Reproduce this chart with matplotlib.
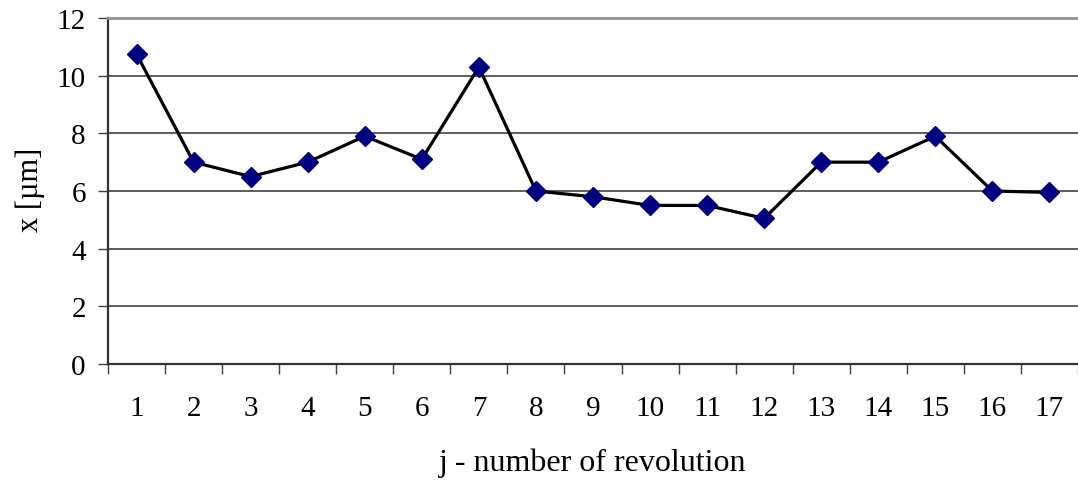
import matplotlib
matplotlib.use("Agg")
import matplotlib.pyplot as plt
import numpy as np

plt.rcParams['font.family'] = ['Liberation Serif', 'DejaVu Serif']

revolution = list(range(1, 18))
x_um = [10.75, 7.0, 6.5, 7.0, 7.9, 7.1, 10.3, 6.0, 5.8, 5.5, 5.5, 5.05, 7.0, 7.0, 7.9, 6.0, 5.95]
y_ticks = [0, 2, 4, 6, 8, 10, 12]

fig = plt.figure(figsize=(10.78, 4.81), dpi=100)
ax = fig.add_axes([108 / 1078, 116 / 481, 970 / 1078, 346 / 481])

ax.plot(revolution, x_um, color='black', lw=2.3, marker='D', markersize=10,
        markerfacecolor='#000080', markeredgecolor='#000080', zorder=3)

ax.set_xlim(0.5, len(revolution) + 0.5)
ax.set_ylim(0, 12)
ax.set_yticks(y_ticks)
ax.set_yticklabels([str(v) for v in y_ticks])
for v in y_ticks[1:]:
    ax.axhline(v, color='#333333', lw=1.1, zorder=1)

# category axis: ticks between categories, labels at the centres
ax.set_xticks(np.arange(0.5, len(revolution) + 1, 1))
ax.set_xticklabels([])
ax.set_xticks(revolution, minor=True)
ax.set_xticklabels([str(r) for r in revolution], minor=True)
ax.tick_params(axis='x', which='major', length=7, width=1, color='#404040', direction='out')
ax.tick_params(axis='x', which='minor', length=0, pad=22, labelsize=21)
ax.tick_params(axis='y', length=7, width=1, color='#404040', direction='out', pad=9, labelsize=21)

ax.spines['top'].set_color('#909090')
ax.spines['top'].set_linewidth(2)
ax.spines['right'].set_visible(False)
ax.spines['left'].set_color('#333333')
ax.spines['left'].set_linewidth(1.6)
ax.spines['bottom'].set_color('#333333')
ax.spines['bottom'].set_linewidth(1.6)

ax.set_ylabel("x [µm]", fontsize=22)
ax.yaxis.label.set_verticalalignment('center')
ax.yaxis.set_label_coords(-0.080, 0.506)
ax.set_xlabel("j - number of revolution", fontsize=23)
ax.xaxis.label.set_verticalalignment('center')
ax.xaxis.set_label_coords(0.5, -0.283)

plt.savefig("out.png", dpi=100)
